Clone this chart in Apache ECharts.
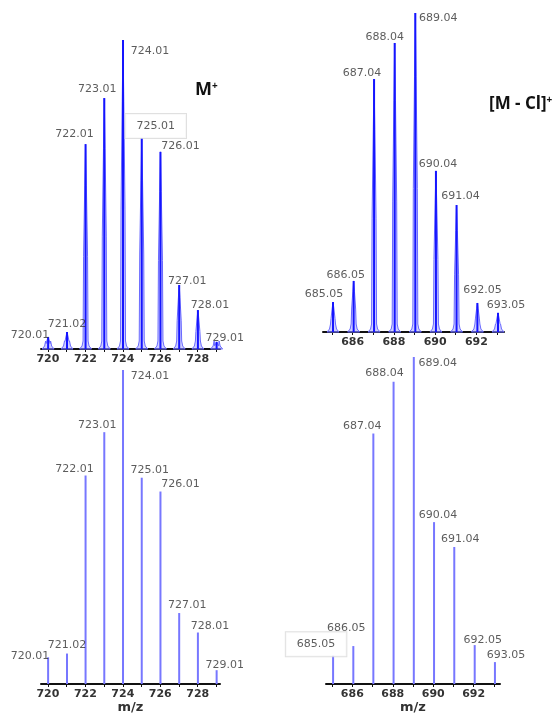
<!DOCTYPE html>
<html>
<head>
<meta charset="utf-8">
<script src="https://cdn.jsdelivr.net/npm/echarts@6/dist/echarts.min.js"></script>
<style>
html,body{margin:0;padding:0;background:#fff;}
#c{width:554px;height:715px;}
</style>
</head>
<body>
<div id="c"></div>
<script>
// ---- data ----
// Top-left: experimental M+ (profile)
const mzTL = [720.01, 721.02, 722.01, 723.01, 724.01, 725.01, 726.01, 727.01, 728.01, 729.01];
const intTL = [3.9, 5.5, 66.3, 81.2, 100, 68.3, 63.8, 20.7, 12.6, 2.3];
// Top-right: experimental [M - Cl]+ (profile)
const mzTR = [685.05, 686.05, 687.04, 688.04, 689.04, 690.04, 691.04, 692.05, 693.05];
const intTR = [9.4, 16.0, 79.3, 90.6, 100, 50.5, 39.8, 9.1, 6.0];
// Bottom-left: simulated M+
const mzBL = [720.01, 721.02, 722.01, 723.01, 724.01, 725.01, 726.01, 727.01, 728.01, 729.01];
const intBL = [8.5, 9.7, 66.4, 80.2, 100, 65.7, 61.3, 22.6, 16.4, 4.4];
// Bottom-right: simulated [M - Cl]+
const mzBR = [685.05, 686.05, 687.04, 688.04, 689.04, 690.04, 691.04, 692.05, 693.05];
const intBR = [8.8, 11.6, 76.6, 92.4, 100, 49.5, 41.9, 11.9, 6.7];
// tick labels
const ticksLeft = [720, 721, 722, 723, 724, 725, 726, 727, 728, 729];
const tickLabelsLeft = [720, 722, 724, 726, 728];
const ticksRight = [685, 686, 687, 688, 689, 690, 691, 692, 693];
const tickLabelsRight = [686, 688, 690, 692];
const titleLeft = 'M';
const titleRight = '[M - Cl]';
const xName = 'm/z';

// ---- layout / style (not data) ----
const offTL = [[-18,-2],[0,-8],[-11,-10],[-7,-9],[27,11],[14,-12],[20,-6],[8,-4],[12,-5],[8,-4]];
const offTR = [[-9,-8],[-8,-6],[-12,-6],[-10,-6],[23,5],[2,-7],[4,-9],[5,-13],[8,-8]];
const offBL = [[-18,-1],[0,-8],[-11,-6],[-7,-7],[27,6],[8,-8],[20,-7],[8,-8],[12,-6],[8,-5]];
const offBR = [[-17,-11],[-7,-18],[-11,-7],[-9,-9],[24,6],[4,-7],[6,-8],[8,-5],[11,-7]];
const boxTL = 5; // index of boxed label
const boxBR = 0;

const grids = [
  {left: 41, width: 179, top: 40, height: 309},
  {left: 323, width: 181, top: 13, height: 319},
  {left: 41, width: 179, top: 370, height: 318},
  {left: 326, width: 174, top: 357, height: 329}
];
const xRanges = [[719.63, 729.19], [684.564, 693.34], [719.63, 729.19], [684.70, 693.30]];

function xAxisFor(i, ticks, labels, showName) {
  return {
    type: 'value', gridIndex: i, min: xRanges[i][0], max: xRanges[i][1],
    axisLine: {show: true, onZero: false, lineStyle: {color: '#111', width: 2}},
    axisTick: {show: true, length: 3, customValues: ticks, lineStyle: {color: '#111', width: 1}},
    axisLabel: {show: true, customValues: labels, margin: 5, color: '#333', fontSize: 11,
      fontWeight: 'bold', fontFamily: 'DejaVu Sans'},
    splitLine: {show: false},
    name: showName ? xName : '', nameLocation: 'middle', nameGap: 17,
    nameTextStyle: {color: '#333', fontSize: 13, fontWeight: 'bold', fontFamily: 'DejaVu Sans'}
  };
}
function yAxisFor(i) {
  return {type: 'value', gridIndex: i, min: 0, max: 100, show: false, splitLine: {show: false}};
}

function profileSeries(i, mz, inten) {
  return {
    type: 'custom', xAxisIndex: i, yAxisIndex: i,
    data: mz.map((m, k) => [m, inten[k]]),
    renderItem: function (params, api) {
      const top = api.coord([api.value(0), api.value(1)]);
      const base = api.coord([api.value(0), 0]);
      const cx = top[0], by = base[1], H = by - top[1];
      const pts = [
        [cx - 6, by], [cx - 3.5, by - 3], [cx - 2.5, by - 8], [cx - 2, by - 0.45 * H],
        [cx - 0.8, by - 0.8 * H], [cx, by - H], [cx + 0.8, by - 0.8 * H],
        [cx + 2, by - 0.45 * H], [cx + 2.5, by - 8], [cx + 3.5, by - 3], [cx + 6, by]
      ];
      return {
        type: 'group',
        children: [
          {type: 'polygon', shape: {points: pts},
            style: {fill: 'rgba(150,150,255,0.45)', stroke: '#6a6aff', lineWidth: 1}},
          {type: 'line', shape: {x1: cx, y1: by, x2: cx, y2: by - H},
            style: {stroke: '#1515ff', lineWidth: 2}}
        ]
      };
    },
    z: 2
  };
}
function stickSeries(i, mz, inten) {
  return {
    type: 'custom', xAxisIndex: i, yAxisIndex: i,
    data: mz.map((m, k) => [m, inten[k]]),
    renderItem: function (params, api) {
      const top = api.coord([api.value(0), api.value(1)]);
      const base = api.coord([api.value(0), 0]);
      return {type: 'line', shape: {x1: top[0], y1: base[1], x2: top[0], y2: top[1]},
        style: {stroke: '#7777ff', lineWidth: 2}};
    },
    z: 2
  };
}
function labelSeries(i, mz, inten, offs, boxIdx) {
  return {
    type: 'scatter', xAxisIndex: i, yAxisIndex: i, symbolSize: 0, silent: true,
    data: mz.map((m, k) => {
      const lab = {offset: offs[k]};
      if (k === boxIdx) {
        Object.assign(lab, {backgroundColor: '#fff', borderColor: '#d8d8d8', borderWidth: 1,
          padding: [7, 11, 6, 11]});
      }
      return {value: [m, inten[k]], label: lab};
    }),
    label: {show: true, position: 'inside', formatter: p => p.value[0].toFixed(2),
      color: '#333', fontSize: 11, fontFamily: 'DejaVu Sans'},
    z: 5
  };
}

const option = {
  backgroundColor: '#fff',
  animation: false,
  grid: grids,
  xAxis: [
    xAxisFor(0, ticksLeft, tickLabelsLeft, false),
    xAxisFor(1, ticksRight, tickLabelsRight, false),
    xAxisFor(2, ticksLeft, tickLabelsLeft, true),
    xAxisFor(3, ticksRight, tickLabelsRight, true)
  ],
  yAxis: [yAxisFor(0), yAxisFor(1), yAxisFor(2), yAxisFor(3)],
  graphic: [
    {type: 'text', left: 195, top: 81, style: {
      text: '{m|' + titleLeft + '}{s|+}',
      rich: {m: {fontSize: 18, fontWeight: 'bold', fontFamily: 'Open Sans', fill: '#111', color: '#111'},
             s: {fontSize: 10, fontWeight: 'bold', fontFamily: 'Open Sans', fill: '#111', color: '#111', verticalAlign: 'top', padding: [0,0,8,0]}}}},
    {type: 'text', left: 489, top: 95, style: {
      text: '{m|' + titleRight + '}{s|+}',
      rich: {m: {fontSize: 17, fontWeight: 'bold', fontFamily: 'Open Sans', fill: '#111', color: '#111'},
             s: {fontSize: 10, fontWeight: 'bold', fontFamily: 'Open Sans', fill: '#111', color: '#111', verticalAlign: 'top', padding: [0,0,8,0]}}}}
  ],
  series: [
    profileSeries(0, mzTL, intTL),
    profileSeries(1, mzTR, intTR),
    stickSeries(2, mzBL, intBL),
    stickSeries(3, mzBR, intBR),
    labelSeries(0, mzTL, intTL, offTL, boxTL),
    labelSeries(1, mzTR, intTR, offTR, -1),
    labelSeries(2, mzBL, intBL, offBL, -1),
    labelSeries(3, mzBR, intBR, offBR, boxBR)
  ]
};
const chart = echarts.init(document.getElementById('c'), null, {renderer: 'canvas'});
chart.setOption(option);
</script>
</body>
</html>
